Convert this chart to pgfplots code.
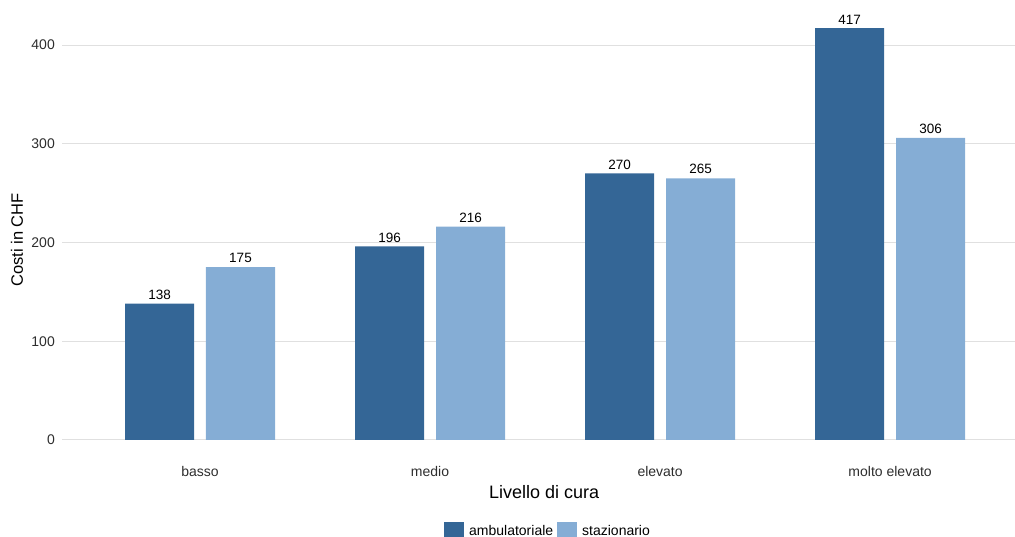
\documentclass[border=0pt]{standalone}
\usepackage{pgfplots}
\pgfplotsset{compat=1.18}
\usepackage{fontspec}
\setmainfont{Liberation Sans}

\definecolor{ambu}{RGB}{52,102,150}
\definecolor{staz}{RGB}{133,173,213}
\definecolor{griglia}{RGB}{224,224,224}
\definecolor{testo}{RGB}{45,45,45}

\begin{document}
\begin{tikzpicture}
\begin{axis}[
    name=main,
    scale only axis,
    width=953bp, height=453bp,
    xmin=-0.6, xmax=3.543,
    ymin=-20.85, ymax=438,
    xtick={0,1,2,3},
    xticklabels={basso,medio,elevato,molto elevato},
    ytick={0,100,200,300,400},
    axis line style={draw=none},
    major tick length=0pt,
    ymajorgrids=true,
    major grid style={griglia, line width=0.9bp},
    /pgf/number format/assume math mode=true,
    tick label style={font=\fontsize{14bp}{16bp}\selectfont, text=testo},
    yticklabel style={anchor=east, inner sep=0pt, xshift=-7bp},
    xticklabel style={anchor=north, inner sep=0pt, yshift=-6bp},
    xlabel={Livello di cura},
    ylabel={Costi in CHF},
    xlabel style={at={(axis description cs:0.506,-0.0693)}, anchor=center,
        font=\fontsize{18bp}{20bp}\selectfont},
    ylabel style={at={(axis description cs:-0.0472,0.487)}, anchor=center,
        font=\fontsize{16.5bp}{19bp}\selectfont},
    ybar,
    bar width=0.3,
    nodes near coords,
    nodes near coords style={font=\fontsize{13.5bp}{15bp}\selectfont, anchor=south,
        inner sep=0pt, yshift=4bp, text=black},
    legend columns=2,
    legend style={at={(axis description cs:0.51,-0.157)}, anchor=center,
        draw=none, fill=none, inner sep=0pt,
        font=\fontsize{14bp}{16bp}\selectfont,
        /tikz/every odd column/.append style={column sep=3bp},
        /tikz/every even column/.append style={column sep=2bp}},
    legend image code/.code={\fill[#1] (0bp,-10bp) rectangle (20bp,10bp);},
]
\addplot[fill=ambu, draw=none, bar shift=-0.176] coordinates {
(0,138) (1,196) (2,270) (3,417)
};
\addplot[fill=staz, draw=none, bar shift=0.176] coordinates {
(0,175) (1,216) (2,265) (3,306)
};
\legend{ambulatoriale,stazionario}
\end{axis}
\pgfresetboundingbox
\path ([shift={(-62bp,-76.4bp)}]main.south west) rectangle ([shift={(0bp,7.5bp)}]main.north east);
\end{tikzpicture}
\end{document}
